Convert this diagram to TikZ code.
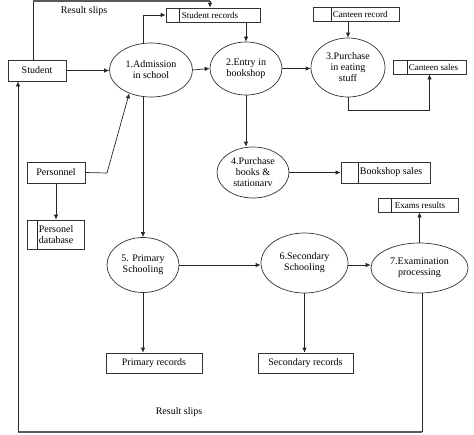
\documentclass[tikz,border=0pt]{standalone}
\usepackage{fontspec}
\setmainfont{Liberation Serif}
\usetikzlibrary{shapes.geometric,arrows.meta,calc}
\begin{document}
\begin{tikzpicture}[x=1pt,y=-1pt,
  every node/.style={font=\fontsize{10}{11}\selectfont, inner sep=0pt, text=black},
  proc/.style={draw=black!80, line width=0.7pt, ellipse, fill=white, align=center},
  ent/.style={draw=black!80, line width=0.7pt, rectangle, fill=white, align=center},
  store/.style={draw=black!80, line width=0.7pt, rectangle, fill=white},
  lbl/.style={font=\fontsize{9}{9}\selectfont, anchor=west},
  flow/.style={draw=black!85, line width=0.7pt, -{Latex[length=5pt,width=4.5pt]}},
  plain/.style={draw=black!85, line width=0.7pt},
  heavy/.style={draw=black!65, line width=1.8pt},
]
\useasboundingbox (0,0) rectangle (474,434);

% external entities
\node[ent, minimum width=58pt, minimum height=21pt] (student) at (37,70.5) {Student};
\node[ent, minimum width=58pt, minimum height=21pt] (pers) at (56,172.5) {Personnel};
\node[ent, minimum width=96pt, minimum height=20pt] (prec) at (154,363) {Primary records};
\node[ent, minimum width=95pt, minimum height=20pt] (secrec) at (305.5,363) {Secondary records};

% processes
\node[proc, minimum width=83pt, minimum height=54pt] (ell1) at (151,70) {1.Admission\\in school};
\node[proc, minimum width=72pt, minimum height=53pt] (ell2) at (246,68.5) {2.Entry in\\bookshop};
\node[proc, minimum width=74pt, minimum height=59pt] (ell3) at (348,67.5) {3.Purchase\\in eating\\stuff};
\node[proc, minimum width=72pt, minimum height=51pt] (ell4) at (253,172.5) {4.Purchase\\books \&\\stationarv};
\node[proc, minimum width=72pt, minimum height=55pt] (ell5) at (143,265) {5. Primary\\Schooling};
\node[proc, minimum width=87pt, minimum height=60pt] (ell6) at (304.5,263) {6.Secondary\\Schooling};
\node[proc, minimum width=97pt, minimum height=50pt] (ell7) at (419.5,268) {7.Examination\\processing};

% data stores
\node[store, minimum width=94pt, minimum height=14pt] (srec) at (213,15) {};
\draw[plain] ($(srec.north west)+(14,0)$) -- ($(srec.south west)+(14,0)$);
\node[lbl] (srect) at ($(srec.west)+(16,0)$) {Student records};

\node[store, minimum width=86pt, minimum height=14pt] (crec) at (356,14) {};
\draw[plain] ($(crec.north west)+(19,0)$) -- ($(crec.south west)+(19,0)$);
\node[lbl] (crect) at ($(crec.west)+(20,0)$) {Canteen record};

\node[store, minimum width=73pt, minimum height=14pt] (csales) at (429.5,67) {};
\draw[plain] ($(csales.north west)+(15,0)$) -- ($(csales.south west)+(15,0)$);
\node[lbl] (csalest) at ($(csales.west)+(16,0)$) {Canteen sales};

\node[store, minimum width=89pt, minimum height=21pt] (bsales) at (385.5,172.5) {};
\draw[plain] ($(bsales.north west)+(18,0)$) -- ($(bsales.south west)+(18,0)$);
\node[anchor=west] (bsalest) at ($(bsales.west)+(19,0)$) {Bookshop sales};

\node[store, minimum width=80pt, minimum height=14pt] (exams) at (418,205) {};
\draw[plain] ($(exams.north west)+(14,0)$) -- ($(exams.south west)+(14,0)$);
\node[lbl] (examst) at ($(exams.west)+(17,0)$) {Exams results};

\node[store, minimum width=57pt, minimum height=29pt] (pdb) at (55.5,234.5) {};
\draw[plain] ($(pdb.north west)+(11,0)$) -- ($(pdb.south west)+(11,0)$);
\node[anchor=west, align=left] (pdbt) at ($(pdb.west)+(12,0)$) {Personel\\database};

% labels
\node (rs1) at (84,11) {Result slips};
\node (rs2) at (179,412) {Result slips};

% coordinates for bends
\coordinate (topL) at (33,1);
\coordinate (topR) at (210,1);
\coordinate (botR) at (422,432);
\coordinate (botL) at (18,432);
\coordinate (pbend) at (107,173);
\coordinate (cbend) at (0,110);

% flows
\draw[plain] (student.north -| topL) -- (topL);
\draw[flow] (topR) -- (topR |- srec.north);
\draw[heavy] (topL) -- (topR);
\draw[flow] (student.east) -- (student.east -| ell1.west);
\draw[flow] (ell5.north |- ell1.north) |- (srec.west);
\draw[flow] (ell2.north |- srec.south) -- (ell2.north);
\draw[flow] (ell1.east) -- (ell2.west);
\draw[flow] (ell2.east) -- (ell2.east -| ell3.west);
\draw[flow] (ell3.north |- crec.south) -- (ell3.north);
\draw[flow] (ell3.south) -- (ell3.south |- cbend) -| (csales.south);
\draw[flow] (ell2.south) -- (ell2.south |- ell4.north);
\draw[flow] (ell4.east) -- (bsales.west);
\draw[flow] (pers.east) -- (pbend) -- (ell1.227);
\draw[flow] (pers.south) -- (pers.south |- pdb.north);
\draw[flow] (ell5.north |- ell1.south) -- (ell5.north);
\draw[flow] (ell5.east) -- (ell5.east -| ell6.west);
\draw[flow] (ell6.east |- ell5.east) -- (ell6.east |- ell5.east -| ell7.west);
\draw[flow] (ell5.south) -- (ell5.south |- prec.north);
\draw[flow] (ell6.south) -- (ell6.south |- secrec.north);
\draw[flow] (ell7.north) -- (ell7.north |- exams.south);
\draw[plain] (ell7.south -| botR) -- (botR);
\draw[heavy] (botR) -- (botL);
\draw[flow] (botL) -- (botL |- student.south);
\end{tikzpicture}
\end{document}
